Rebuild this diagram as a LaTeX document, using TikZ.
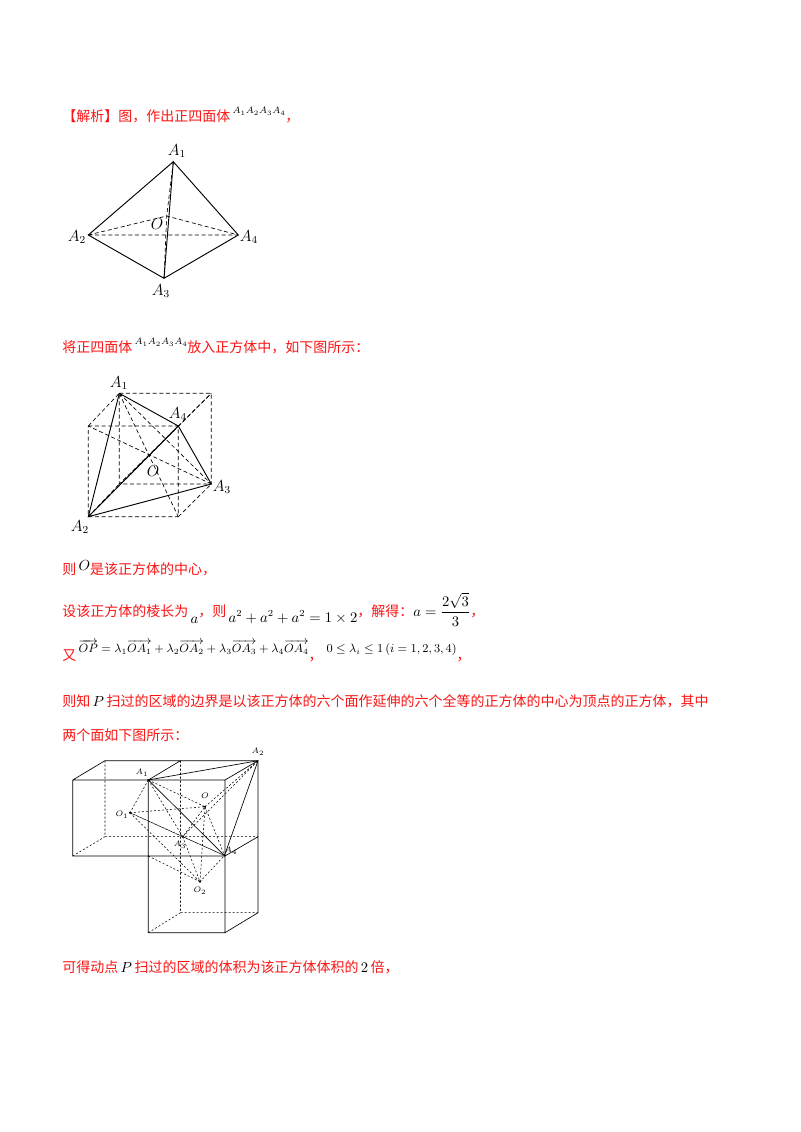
\documentclass[tikz,border=0pt]{standalone}
\usepackage{amsmath}
\usepackage{fontspec}
\newfontfamily\cjk{Noto Sans CJK SC}
\definecolor{cnred}{RGB}{250,20,20}
\newcommand{\R}[1]{\textcolor{cnred}{\cjk #1}}
\begin{document}
\begin{tikzpicture}[x=0.75pt,y=-0.75pt,
  txt/.style={anchor=base west,inner sep=0pt,font=\fontsize{10.5pt}{12pt}\selectfont},
  lbl/.style={inner sep=0.5pt,font=\fontsize{11.5pt}{12pt}\selectfont},
  slbl/.style={inner sep=0.5pt,font=\fontsize{6.5pt}{8pt}\selectfont},
  hid/.style={dash pattern=on 3pt off 2pt,line width=0.5pt},
  vis/.style={line width=0.7pt},
  hid2/.style={dash pattern=on 1.5pt off 1.5pt,line width=0.4pt},
  vis2/.style={line width=0.5pt}]
\useasboundingbox (0,0) rectangle (800,1132);
% text
\node[txt] (t1) at (62,121) {\R{【解析】图，作出正四面体}\,\raisebox{1.2ex}{$\scriptstyle A_1A_2A_3A_4$}\R{，}};
\node[txt] (t2) at (62,352) {\R{将正四面体}\,\raisebox{1.2ex}{$\scriptstyle A_1A_2A_3A_4$}\R{放入正方体中，如下图所示：}};
\node[txt] (t3) at (62,574) {\R{则}\,\raisebox{0.6ex}{$O$}\R{是该正方体的中心，}};
\node[txt] (t4) at (62,616) {\R{设该正方体的棱长为}\,\raisebox{-1.2ex}{$a$}\R{，则}\,\raisebox{-1ex}{$a^2+a^2+a^2=1\times2$}\R{，解得：}$a=\dfrac{2\sqrt3}{3}$\R{，}};
\node[txt] (t5) at (62,660) {\R{又}\,\raisebox{1.2ex}{\fontsize{9pt}{10pt}\selectfont$\overrightarrow{OP}=\lambda_1\overrightarrow{OA_1}+\lambda_2\overrightarrow{OA_2}+\lambda_3\overrightarrow{OA_3}+\lambda_4\overrightarrow{OA_4}$}\R{，}\;\raisebox{1.2ex}{\fontsize{9pt}{10pt}\selectfont$0\le\lambda_i\le1\left(i=1,2,3,4\right)$}\R{，}};
\node[txt] (t6) at (62,706) {\R{则知}$\,P\,$\R{扫过的区域的边界是以该正方体的六个面作延伸的六个全等的正方体的中心为顶点的正方体，其中}};
\node[txt] (t7) at (62,740) {\R{两个面如下图所示：}};
\node[txt] (t8) at (62,972) {\R{可得动点}$\,P\,$\R{扫过的区域的体积为该正方体体积的}$\,2\,$\R{倍，}};
% figure 1
\coordinate (a1) at (173.3,161.7);
\coordinate (a2) at (88.3,235);
\coordinate (a4) at (238.3,235);
\coordinate (a3) at (164,278.3);
\coordinate (o) at (166.7,216);
\draw[vis] (a1)--(a2)--(a3)--(a4)--(a1)--(a3);
\draw[hid] (a2)--(a4) (a2)--(o)--(a4) (a1)--(o)--(a3);
\node[lbl] (l1) at (177,151) {$A_1$};
\node[lbl] (l2) at (77,237) {$A_2$};
\node[lbl] (l4) at (249,237) {$A_4$};
\node[lbl] (l3) at (161,291) {$A_3$};
\node[lbl] (lo) at (157,224) {$O$};
% figure 2
\coordinate (f1) at (88.3,426); \coordinate (f2) at (178.3,426);
\coordinate (f3) at (178.3,516.7); \coordinate (f4) at (88.3,516.7);
\coordinate (b1) at (119.3,393.3); \coordinate (b2) at (211.3,393.3);
\coordinate (b3) at (211.3,484); \coordinate (b4) at (119.3,484);
\draw[hid] (f1)--(f2)--(f3)--(f4)--cycle (b1)--(b2)--(b3)--(b4)--cycle
  (f1)--(b1) (f2)--(b2) (f3)--(b3) (f4)--(b4);
\draw[hid] (b1)--(f3) (f2)--(b4) (b3)--(f1) (f4)--(b2) (b1)--(b3);
\draw[vis] (b1)--(f4)--(b3)--(f2)--(b1) (f4)--(f2);
\node[lbl] (m1) at (119,383) {$A_1$};
\node[lbl] (m4) at (178,414) {$A_4$};
\node[lbl] (m3) at (222,487) {$A_3$};
\node[lbl] (m2) at (80,527) {$A_2$};
\node[lbl] (mo) at (153,471) {$O$};
% figure 3
\coordinate (p1) at (72.7,780); \coordinate (p2) at (148.3,780); \coordinate (p3) at (225,780);
\coordinate (p4) at (72.7,856); \coordinate (p5) at (148.3,856); \coordinate (p6) at (225,856);
\coordinate (p7) at (148.3,932.7); \coordinate (p8) at (225,932.7);
\coordinate (q1) at (105,760.7); \coordinate (q2) at (180.5,760.7); \coordinate (q3) at (258,760.7);
\coordinate (q4) at (105,836.7); \coordinate (q5) at (180.5,836.7); \coordinate (q6) at (258,836.7);
\coordinate (q7) at (180.5,912.7); \coordinate (q8) at (258,912.7);
\coordinate (c1) at (148.3,780); \coordinate (c2) at (258,760.7);
\coordinate (c3) at (182.7,836.7); \coordinate (c4) at (224.5,855.5);
\coordinate (co) at (205,806.7); \coordinate (co1) at (130,812.7); \coordinate (co2) at (200,881.7);
\draw[vis2] (p1)--(p3)--(p8)--(p7)--(p2) (p1)--(p4)--(p6) (p1)--(q1)--(q3)--(q8)--(p8)
  (p3)--(q3) (p2)--(q2) (p6)--(q6);
\draw[hid2] (q1)--(q4)--(q6) (p4)--(q4) (q2)--(q5) (q5)--(q7)--(q8) (p7)--(q7);
\draw[vis2] (c1)--(c2)--(c4)--(c1);
\draw[hid2] (c1)--(co1)--(c3) (c1)--(co)--(c3) (co1)--(co) (co1)--(c4) (c1)--(c3)
  (co)--(c4) (co)--(c2) (c3)--(c4) (c3)--(co2)--(c4) (co2)--(co) (co1)--(co2)
  (c3)--(c2) (p5)--(co2);
\foreach \p in {c1,c3,c4,co,co1,co2} \fill (\p) circle (0.8pt);
\node[slbl] (n1) at (142,773) {$A_1$};
\node[slbl] (n2) at (258,752) {$A_2$};
\node[slbl] (n3) at (180,845) {$A_3$};
\node[slbl] (n4) at (231,851) {$A_4$};
\node[slbl] (no) at (205,796) {$O$};
\node[slbl] (no1) at (122,815) {$O_1$};
\node[slbl] (no2) at (200,891) {$O_2$};
\end{tikzpicture}
\end{document}
